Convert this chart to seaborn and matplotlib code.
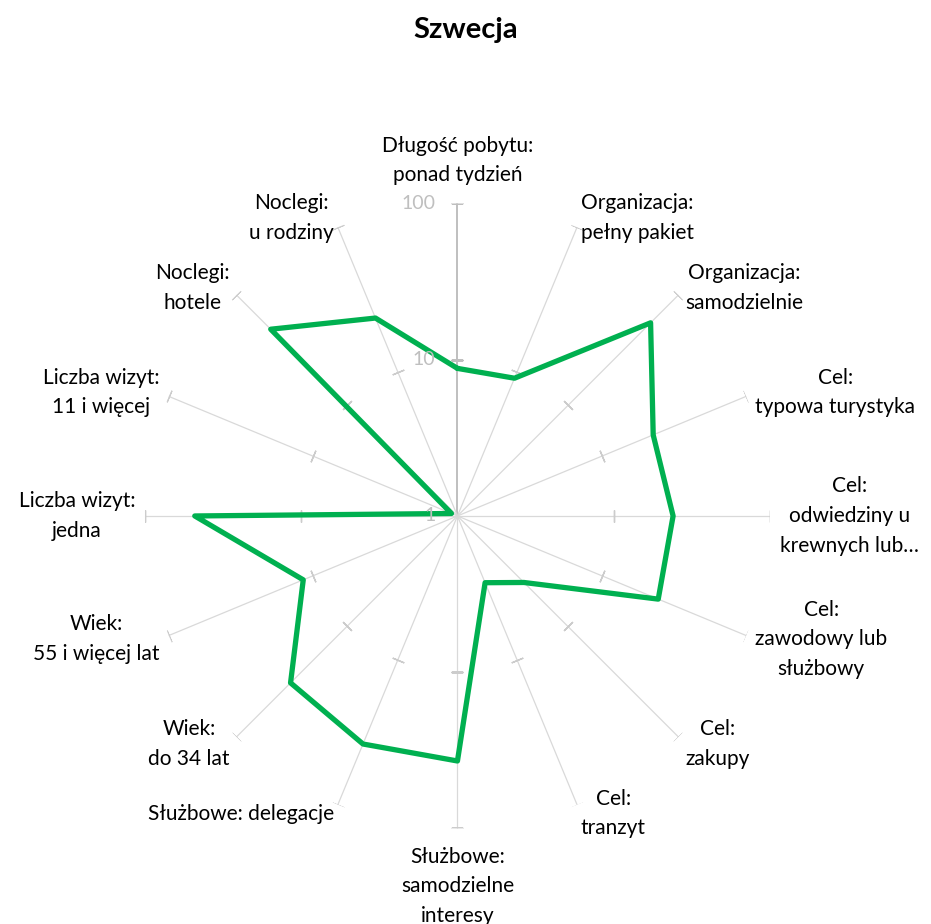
import numpy as np
import pandas as pd
import seaborn as sns
import matplotlib.pyplot as plt

categories = [
    "Długość pobytu:\nponad tydzień",
    "Organizacja:\npełny pakiet",
    "Organizacja:\nsamodzielnie",
    "Cel:\ntypowa turystyka",
    "Cel:\nodwiedziny u\nkrewnych lub…",
    "Cel:\nzawodowy lub\nsłużbowy",
    "Cel:\nzakupy",
    "Cel:\ntranzyt",
    "Służbowe:\nsamodzielne\ninteresy",
    "Służbowe: delegacje",
    "Wiek:\ndo 34 lat",
    "Wiek:\n55 i więcej lat",
    "Liczba wizyt:\njedna",
    "Liczba wizyt:\n11 i więcej",
    "Noclegi:\nhotele",
    "Noclegi:\nu rodziny",
]
values = [8.8, 9.0, 56, 22.7, 24, 24.6, 4.0, 2.9, 37, 38, 32.4, 11.7, 48, 1.1, 49, 23.5]
radial_ticks = [1, 10, 100]

sns.set_theme(style="white")
plt.rcParams['font.family'] = ['Lato', 'DejaVu Sans']

n = len(categories)
angles = np.arange(n) * 2 * np.pi / n

# close the loop with the first point at 2*pi
df = pd.DataFrame({"angle": np.append(angles, 2 * np.pi),
                   "value": values + values[:1]})

fig = plt.figure(figsize=(9.31, 9.24), dpi=100)
ax = fig.add_axes([0.1557, 0.1034, 0.6713, 0.6764], projection="polar")
ax.set_theta_zero_location("N")
ax.set_theta_direction(-1)
ax.set_rscale("log")
ax.set_rlim(1, 100)

# spokes with small ticks at 10 and 100
for i, a in enumerate(angles):
    main = i == 0
    ax.plot([a, a], [1, 100], color="#bfbfbf" if main else "#d9d9d9",
            lw=1.4 if main else 0.9, zorder=1)
    rot = 90 - np.degrees(a)
    ax.plot([a, a], [10, 100], ls="none", marker=(2, 2, rot), ms=9,
            mec="#bfbfbf" if main else "#cccccc", mew=1.0, zorder=1)

sns.lineplot(data=df, x="angle", y="value", sort=False, estimator=None, ax=ax,
             color="#00b050", lw=3.8, zorder=3)

ax.grid(False)
ax.set_xticks([])
ax.set_yticks([])
ax.spines["polar"].set_visible(False)
ax.set_xlabel("")
ax.set_ylabel("")

for t in radial_ticks:
    ax.annotate(str(t), xy=(0, t), xytext=(-16, 0), textcoords="offset points",
                ha="right", va="center", fontsize=14, color="#bfbfbf")

for a, lab in zip(angles, categories):
    s, c = np.sin(a), np.cos(a)
    ha = "left" if s > 0.1 else ("right" if s < -0.1 else "center")
    if c > 0.95:
        va, off = "bottom", (0, 13)
    elif c < -0.95:
        va, off = "top", (0, -13)
    else:
        va, off = "center", (7 * s, 7 * c)
    ax.annotate(lab, xy=(a, 100), xytext=off, textcoords="offset points",
                ha=ha, va=va, multialignment="center", fontsize=15,
                color="black", linespacing=1.6)

fig.suptitle("Szwecja", y=0.982, fontsize=21, fontweight="bold", color="black")

fig.savefig("out.png", dpi=100)
